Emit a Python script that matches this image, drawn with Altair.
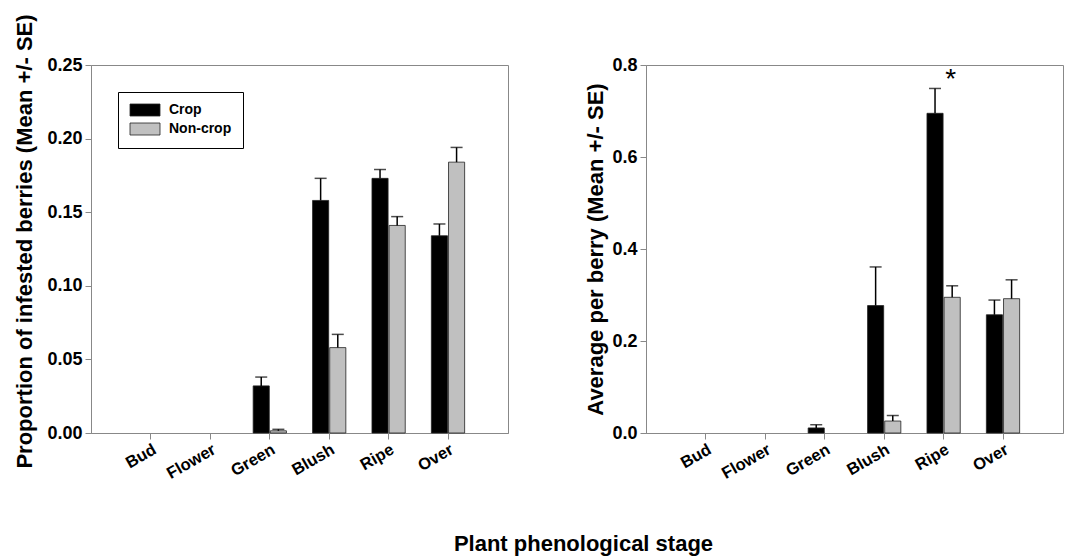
import altair as alt
import pandas as pd

stages = ["Bud", "Flower", "Green", "Blush", "Ripe", "Over"]
groups = ["Crop", "Non-crop"]
colors = ["#000000", "#c0c0c0"]

# Left panel: proportion of infested berries
prop_crop = [0, 0, 0.032, 0.158, 0.173, 0.134]
prop_crop_se = [0, 0, 0.006, 0.015, 0.006, 0.008]
prop_non = [0, 0, 0.0015, 0.058, 0.141, 0.184]
prop_non_se = [0, 0, 0.001, 0.009, 0.006, 0.010]

# Right panel: average per berry
avg_crop = [0, 0, 0.011, 0.277, 0.695, 0.257]
avg_crop_se = [0, 0, 0.007, 0.084, 0.054, 0.032]
avg_non = [0, 0, 0, 0.026, 0.295, 0.292]
avg_non_se = [0, 0, 0, 0.012, 0.025, 0.041]

left_ticks = [0, 0.05, 0.10, 0.15, 0.20, 0.25]
right_ticks = [0, 0.2, 0.4, 0.6, 0.8]

star_stage = ["Ripe"]
star_y = [0.75]
star_text = ["*"]

FONT = "Liberation Sans"
W, H = 417, 368


def make_df(crop, crop_se, non, non_se):
    rows = []
    for i, s in enumerate(stages):
        rows.append(dict(stage=s, group=groups[0], mean=crop[i], se=crop_se[i]))
        rows.append(dict(stage=s, group=groups[1], mean=non[i], se=non_se[i]))
    df = pd.DataFrame(rows)
    df["upper"] = df["mean"] + df["se"]
    return df


def xscale():
    return alt.Scale(domain=stages, paddingInner=0.44, paddingOuter=0.73)


def panel(df, ytitle, yvals, yfmt, ymax, title_pad, title_y, legend):
    xenc = alt.X(
        "stage:N", sort=stages, title=None, scale=xscale(),
        axis=alt.Axis(labelAngle=-30, labelFontSize=16.5, labelPadding=2),
    )
    xoff = alt.XOffset("group:N", sort=groups,
                       scale=alt.Scale(domain=groups, paddingInner=0.06))
    yscale = alt.Scale(domain=[0, ymax], nice=False)
    yenc = alt.Y(
        "mean:Q", title=ytitle, scale=yscale,
        axis=alt.Axis(values=yvals, format=yfmt, titlePadding=title_pad, titleY=title_y),
    )
    color = alt.Color(
        "group:N", sort=groups,
        scale=alt.Scale(domain=groups, range=colors),
        legend=legend,
    )
    base = alt.Chart(df).transform_filter("datum.mean > 0")
    bars = base.mark_bar(stroke="#222222", strokeWidth=0.8).encode(
        x=xenc, xOffset=xoff, y=yenc, color=color
    )
    rules = base.mark_rule(color="#000000", strokeWidth=1.5).encode(
        x=xenc, xOffset=xoff, y=alt.Y("mean:Q", scale=yscale), y2="upper:Q"
    )
    caps = base.mark_tick(color="#000000", size=12, thickness=1.5, orient="horizontal").encode(
        x=xenc, xOffset=xoff, y=alt.Y("upper:Q", scale=yscale)
    )
    return bars + rules + caps


left_df = make_df(prop_crop, prop_crop_se, prop_non, prop_non_se)
right_df = make_df(avg_crop, avg_crop_se, avg_non, avg_non_se)

legend = alt.Legend(
    title=None, orient="none", legendX=27, legendY=27,
    strokeColor="#000000", fillColor="#ffffff", padding=11,
    rowPadding=3, labelOffset=17, symbolOffset=9,
    symbolType="M-2.5,-1L2.5,-1L2.5,1L-2.5,1Z", symbolSize=144,
    symbolStrokeColor="#222222", symbolStrokeWidth=0.8,
    labelFont=FONT, labelFontSize=14, labelFontWeight="bold", labelColor="#000000",
)

left = panel(left_df, "Proportion of infested berries (Mean +/- SE)",
             left_ticks, ".2f", 0.25, 10, 176, legend).properties(width=W, height=H)

right_bars = panel(right_df, "Average per berry (Mean +/- SE)",
                   right_ticks, ".1f", 0.8, 4, 184, None)

star_df = pd.DataFrame({"stage": star_stage, "y": star_y, "label": star_text})
star = alt.Chart(star_df).mark_text(
    font=FONT, fontSize=28, color="#000000", dx=7, baseline="alphabetic"
).encode(
    x=alt.X("stage:N", sort=stages, scale=xscale()),
    y=alt.Y("y:Q", scale=alt.Scale(domain=[0, 0.8], nice=False)),
    text="label:N",
)
right = (right_bars + star).properties(width=W, height=H)

chart = alt.hconcat(left, right, spacing=75).resolve_scale(
    color="independent"
).resolve_legend(color="independent").properties(
    title=alt.TitleParams(
        "Plant phenological stage", orient="bottom", anchor="middle",
        font=FONT, fontSize=22, fontWeight="bold", color="#000000",
        offset=52, dx=45,
    ),
    padding={"left": 13, "top": 13, "right": 5, "bottom": 5},
).configure_view(
    stroke="#888888", strokeWidth=1
).configure_axis(
    grid=False, domainColor="#888888", tickColor="#888888", tickSize=6,
    labelFont=FONT, labelFontWeight="bold", labelFontSize=18, labelColor="#000000",
    titleFont=FONT, titleFontWeight="bold", titleFontSize=22, titleColor="#000000",
    labelPadding=3,
)

chart.save("out.html", embed_options={"renderer": "svg", "actions": False})
